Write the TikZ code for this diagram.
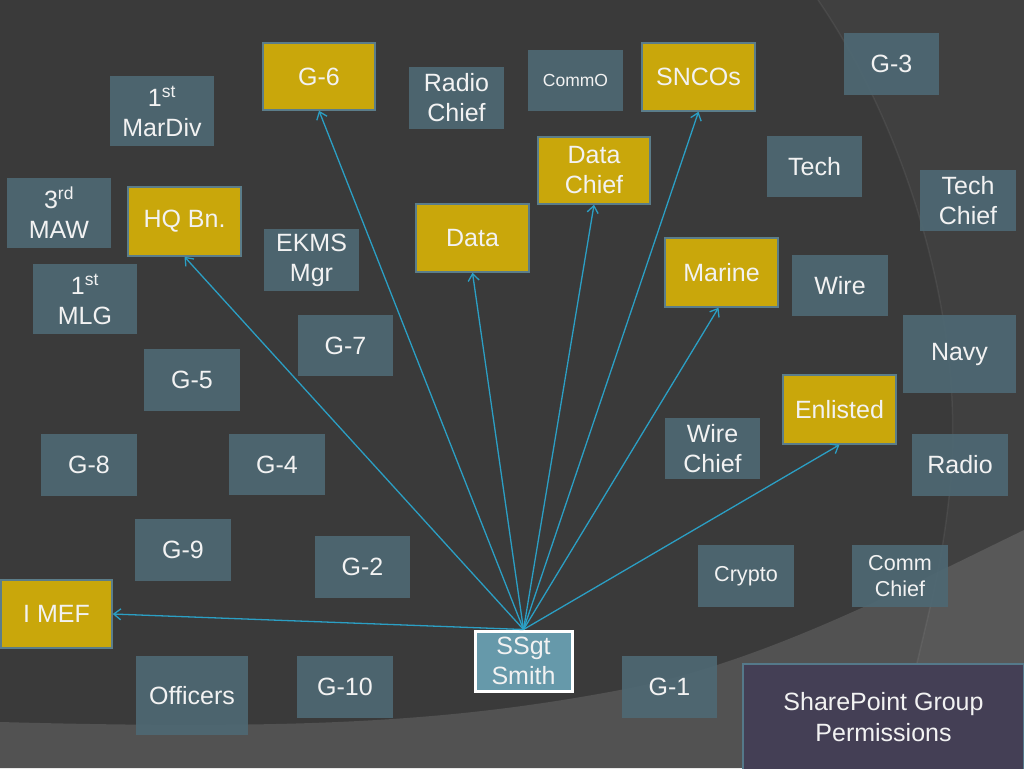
\documentclass[tikz,border=0pt]{standalone}
\usepackage{fontspec}
\setmainfont{Liberation Sans}
\usetikzlibrary{arrows.meta}
\definecolor{bg}{HTML}{3A3A3A}
\definecolor{lowbg}{HTML}{525252}
\definecolor{boxgray}{HTML}{4E6873}
\definecolor{boxgold}{HTML}{C9A70B}
\definecolor{goldedge}{HTML}{5B7D8A}
\definecolor{ssfill}{HTML}{6699AA}
\definecolor{spfill}{HTML}{443F55}
\definecolor{spedge}{HTML}{55798A}
\definecolor{arr}{HTML}{2B9FC4}
\definecolor{txt}{HTML}{F2F2F2}
\tikzset{
  base/.style={inner sep=0pt, text=txt, align=center, font=\fontsize{25}{30}\selectfont},
  gbox/.style={base, fill=boxgray, fill opacity=0.92, text opacity=1},
  ybox/.style={base, fill=boxgold, draw=goldedge, line width=1.5pt},
  ssbox/.style={base, fill=ssfill, draw=white, line width=3pt},
  spbox/.style={base, fill=spfill, draw=spedge, line width=2pt, font=\fontsize{25}{31}\selectfont},
  link/.style={draw=arr, line width=1.3pt, -{Straight Barb[length=7pt,width=11pt,line width=1.3pt]}}
}
\begin{document}
\begin{tikzpicture}[x=1pt,y=-1pt]
\useasboundingbox (0,0) rectangle (1024,768);
% background
\fill[bg] (0,0) rectangle (1024,768);
\fill[lowbg] (0,722) .. controls (300,730) and (450,722) .. (620,690)
  .. controls (760,664) and (900,590) .. (1024,530) -- (1024,768) -- (0,768) -- cycle;
\fill[white, opacity=0.035] (818,0) .. controls (900,120) and (960,300) .. (952,460)
  .. controls (945,580) and (915,650) .. (895,768) -- (1024,768) -- (1024,0) -- cycle;
\draw[white, opacity=0.06, line width=1.5pt] (818,0) .. controls (900,120) and (960,300) .. (952,460)
  .. controls (945,580) and (915,650) .. (895,768);

% gray boxes
\node[gbox, minimum width=104, minimum height=70] (mardiv) at (162,111) {1\textsuperscript{st}\\MarDiv};
\node[gbox, minimum width=95, minimum height=62] (radiochief) at (456.5,98) {Radio\\Chief};
\node[gbox, minimum width=95, minimum height=61, font=\fontsize{17.5}{21}\selectfont] (commo) at (575.5,80.5) {CommO};
\node[gbox, minimum width=95, minimum height=62] (g3) at (891.5,64) {G-3};
\node[gbox, minimum width=95, minimum height=61] (tech) at (814.5,166.5) {Tech};
\node[gbox, minimum width=96, minimum height=61] (techchief) at (968,200.5) {Tech\\Chief};
\node[gbox, minimum width=104, minimum height=70] (maw) at (59,213) {3\textsuperscript{rd}\\MAW};
\node[gbox, minimum width=95, minimum height=62] (ekms) at (311.5,260) {EKMS\\Mgr};
\node[gbox, minimum width=96, minimum height=61] (wire) at (840,285.5) {Wire};
\node[gbox, minimum width=104, minimum height=70] (mlg) at (85,299) {1\textsuperscript{st}\\MLG};
\node[gbox, minimum width=95, minimum height=61] (g7) at (345.5,345.5) {G-7};
\node[gbox, minimum width=113, minimum height=78] (navy) at (959.5,354) {Navy};
\node[gbox, minimum width=96, minimum height=62] (g5) at (192,380) {G-5};
\node[gbox, minimum width=95, minimum height=61] (wirechief) at (712.5,448.5) {Wire\\Chief};
\node[gbox, minimum width=96, minimum height=62] (g8) at (89,465) {G-8};
\node[gbox, minimum width=96, minimum height=61] (g4) at (277,464.5) {G-4};
\node[gbox, minimum width=96, minimum height=62] (radio) at (960,465) {Radio};
\node[gbox, minimum width=96, minimum height=62] (g9) at (183,550) {G-9};
\node[gbox, minimum width=95, minimum height=62] (g2) at (362.5,567) {G-2};
\node[gbox, minimum width=96, minimum height=62, font=\fontsize{21.6}{26}\selectfont] (crypto) at (746,576) {Crypto};
\node[gbox, minimum width=96, minimum height=62, font=\fontsize{21.6}{26}\selectfont] (commchief) at (900,576) {Comm\\Chief};
\node[gbox, minimum width=112, minimum height=79] (officers) at (192,695.5) {Officers};
\node[gbox, minimum width=96, minimum height=62] (g10) at (345,687) {G-10};
\node[gbox, minimum width=95, minimum height=62] (g1) at (669.5,687) {G-1};

% gold boxes
\node[ybox, minimum width=112, minimum height=67] (g6) at (319,76.5) {G-6};
\node[ybox, minimum width=113, minimum height=68] (sncos) at (698.5,77) {SNCOs};
\node[ybox, minimum width=112, minimum height=67] (datachief) at (594,170.5) {Data\\Chief};
\node[ybox, minimum width=113, minimum height=69] (hqbn) at (184.5,221.5) {HQ Bn.};
\node[ybox, minimum width=113, minimum height=68] (data) at (472.5,238) {Data};
\node[ybox, minimum width=113, minimum height=69] (marine) at (721.5,272.5) {Marine};
\node[ybox, minimum width=113, minimum height=69] (enlisted) at (839.5,409.5) {Enlisted};
\node[ybox, minimum width=111, minimum height=68] (imef) at (56.5,614) {I MEF};

% central box
\node[ssbox, minimum width=97, minimum height=60] (ssgt) at (523.5,661) {SSgt\\Smith};

% title box
\node[spbox, minimum width=281, minimum height=106] (sp) at (883.5,717) {SharePoint Group\\Permissions};

% connectors
\draw[link] (ssgt.north) -- (g6.south);
\draw[link] (ssgt.north) -- (hqbn.south);
\draw[link] (ssgt.north) -- (data.south);
\draw[link] (ssgt.north) -- (datachief.south);
\draw[link] (ssgt.north) -- (sncos.south);
\draw[link] (ssgt.north) -- ([xshift=-3pt]marine.south);
\draw[link] (ssgt.north) -- (enlisted.south);
\draw[link] (ssgt.north) -- (imef.east);
\end{tikzpicture}
\end{document}
